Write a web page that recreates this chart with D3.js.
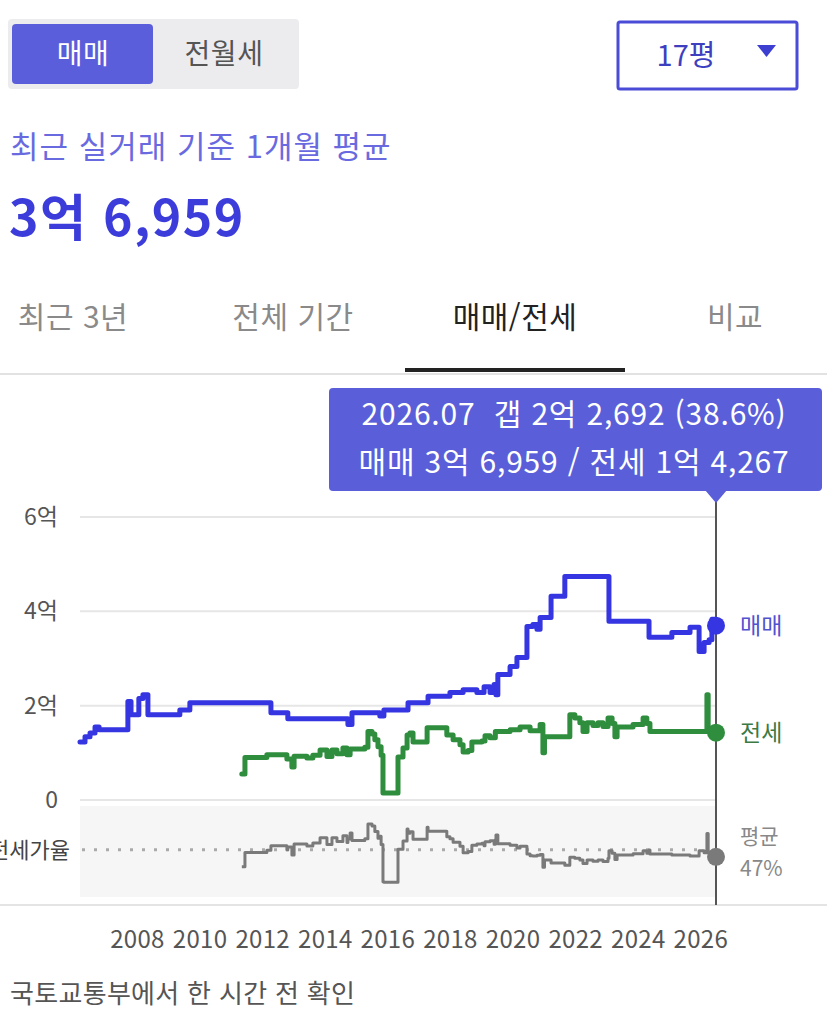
<!DOCTYPE html>
<html lang="ko">
<head>
<meta charset="utf-8">
<script src="https://cdn.jsdelivr.net/npm/d3@7"></script>
<style>
  body { margin: 0; background: #fff; font-family: "Noto Sans CJK KR", "Noto Sans", sans-serif; }
  svg text { font-family: "Noto Sans CJK KR", "Noto Sans", sans-serif; }
</style>
</head>
<body>
<script>
// 매매 (연도, 억)
const saleYears = [2006.18, 2006.34, 2006.50, 2006.66, 2006.79, 2007.71, 2007.81, 2008.06, 2008.19, 2008.35,
  2009.37, 2009.69, 2012.28, 2012.82, 2014.74, 2014.87, 2015.76, 2015.89, 2016.66, 2017.30,
  2018.00, 2018.42, 2018.86, 2019.09, 2019.28, 2019.41, 2019.47, 2019.53, 2019.92, 2020.14,
  2020.46, 2020.65, 2020.78, 2020.88, 2021.23, 2021.67, 2023.08, 2024.36, 2025.09, 2025.67,
  2025.96, 2026.12, 2026.28, 2026.37, 2026.50];
const saleValues = [1.23, 1.34, 1.42, 1.55, 1.49, 2.09, 1.81, 2.15, 2.23, 1.81,
  1.91, 2.06, 1.85, 1.72, 1.60, 1.85, 1.78, 1.91, 2.06, 2.20,
  2.28, 2.34, 2.28, 2.40, 2.28, 2.45, 2.23, 2.66, 2.83, 3.02,
  3.68, 3.72, 3.62, 3.87, 4.32, 4.74, 3.79, 3.45, 3.55, 3.66,
  3.15, 3.34, 3.40, 3.83, 3.6959];

// 전세 (연도, 억)
const jeonseYears = [2011.35, 2011.45, 2012.15, 2012.79, 2012.95, 2013.02, 2013.43, 2013.62, 2013.85, 2014.07,
  2014.23, 2014.39, 2014.58, 2014.71, 2014.81, 2015.28, 2015.38, 2015.51, 2015.60, 2015.70,
  2015.80, 2015.86, 2016.34, 2016.50, 2016.63, 2016.72, 2016.82, 2017.27, 2017.90, 2018.10,
  2018.32, 2018.42, 2018.58, 2018.70, 2019.02, 2019.12, 2019.28, 2019.45, 2019.92, 2020.24,
  2020.56, 2020.88, 2020.97, 2021.02, 2021.83, 2021.99, 2022.15, 2022.25, 2022.38, 2022.57,
  2022.73, 2022.89, 2023.05, 2023.18, 2023.27, 2023.34, 2023.85, 2024.17, 2024.29, 2024.39,
  2026.21, 2026.25, 2026.50];
const jeonseValues = [0.55, 0.90, 0.96, 0.87, 0.70, 0.93, 0.89, 0.95, 1.06, 0.92,
  1.06, 0.98, 1.10, 0.96, 1.08, 1.12, 1.45, 1.40, 1.28, 1.13,
  0.95, 0.15, 0.91, 1.10, 1.38, 1.42, 1.23, 1.53, 1.38, 1.28,
  1.17, 1.02, 1.05, 1.23, 1.25, 1.36, 1.32, 1.45, 1.49, 1.55,
  1.47, 1.60, 1.00, 1.34, 1.81, 1.74, 1.64, 1.45, 1.64, 1.58,
  1.64, 1.56, 1.74, 1.62, 1.34, 1.55, 1.60, 1.74, 1.62, 1.45,
  2.23, 1.45, 1.4267];

const yTicks = [0, 2, 4, 6];
const xTicks = [2008, 2010, 2012, 2014, 2016, 2018, 2020, 2022, 2024, 2026];
const avgRatio = 47;
const latestLabel = "2026.07";
const tradeTabs = ["매매", "전월세"];
const periodTabs = ["최근 3년", "전체 기간", "매매/전세", "비교"];

const W = 827, H = 1020;
const svg = d3.select("body").append("svg").attr("width", W).attr("height", H);

const fmtWon = v => {
  const man = Math.round(v * 10000);
  return `${Math.floor(man / 10000)}억 ${d3.format(",")(man % 10000)}`;
};

const lastSale = saleValues[saleValues.length - 1];
const lastJeonse = jeonseValues[jeonseValues.length - 1];
const lastYear = saleYears[saleYears.length - 1];

// 상단 토글
svg.append("rect").attr("x", 8).attr("y", 19).attr("width", 291).attr("height", 70).attr("rx", 4).attr("fill", "#ececef");
svg.append("rect").attr("x", 12).attr("y", 24).attr("width", 141).attr("height", 60).attr("rx", 4).attr("fill", "#5a5edb");
svg.selectAll(".toggle").data(tradeTabs).join("text")
  .attr("x", (d, i) => i === 0 ? 83 : 224).attr("y", 54).attr("dy", "0.35em")
  .attr("text-anchor", "middle").attr("font-size", 28).attr("letter-spacing", 0.5)
  .attr("fill", (d, i) => i === 0 ? "#fff" : "#555").text(d => d);

// 평형 선택
svg.append("rect").attr("x", 618).attr("y", 22).attr("width", 179).attr("height", 67).attr("rx", 2)
  .attr("fill", "#fff").attr("stroke", "#4a4bd6").attr("stroke-width", 3);
svg.append("text").attr("x", 686).attr("y", 56).attr("dy", "0.35em").attr("text-anchor", "middle")
  .attr("font-size", 29).attr("fill", "#3d3fbf").text("17평");
svg.append("path").attr("d", "M757,45 L776,45 L766.5,57 Z").attr("fill", "#3d3fd0");

svg.append("text").attr("x", 10).attr("y", 147).attr("dy", "0.35em").attr("font-size", 31)
  .attr("letter-spacing", 1).attr("fill", "#6a6ae0").text("최근 실거래 기준 1개월 평균");
svg.append("text").attr("x", 9).attr("y", 218).attr("dy", "0.35em").attr("font-size", 50)
  .attr("letter-spacing", 1.5).attr("font-weight", "bold").attr("fill", "#3c3cdb").text(fmtWon(lastSale));

// 탭
const tabX = [73, 293, 515, 735];
svg.selectAll(".tab").data(periodTabs).join("text")
  .attr("x", (d, i) => tabX[i]).attr("y", 317).attr("dy", "0.35em").attr("text-anchor", "middle")
  .attr("font-size", 30).attr("letter-spacing", 0.5)
  .attr("fill", (d, i) => i === 2 ? "#222" : "#8a8a8a").text(d => d);
svg.append("line").attr("x1", 0).attr("x2", W).attr("y1", 374).attr("y2", 374).attr("stroke", "#e2e2e2").attr("stroke-width", 2);
svg.append("rect").attr("x", 405).attr("y", 368).attr("width", 220).attr("height", 4).attr("fill", "#222");

// 스케일
const x = d3.scaleLinear().domain([saleYears[0], lastYear]).range([80, 716]);
const y = d3.scaleLinear().domain([0, 6]).range([800, 517]);
const yRatio = d3.scaleLinear().domain([-10, 100]).range([897, 806]);

// 전세가율 배경
svg.append("rect").attr("x", 80).attr("y", 806).attr("width", 636).attr("height", 91).attr("fill", "#f6f6f6");

// 그리드
svg.selectAll(".grid").data(yTicks).join("line")
  .attr("x1", 80).attr("x2", 716).attr("y1", d => y(d)).attr("y2", d => y(d))
  .attr("stroke", "#e6e6e6").attr("stroke-width", 2);
svg.append("line").attr("x1", 0).attr("x2", W).attr("y1", 905).attr("y2", 905).attr("stroke", "#e4e4e4").attr("stroke-width", 2);

// y축
const yAxis = svg.append("g").attr("transform", "translate(58,0)")
  .call(d3.axisLeft(y).tickValues(yTicks).tickSize(0).tickPadding(0).tickFormat(d => d === 0 ? "0" : d + "억"));
yAxis.select(".domain").remove();
yAxis.selectAll("text").attr("font-size", 23).attr("fill", "#555");

// x축
const xAxis = svg.append("g").attr("transform", "translate(0,905)")
  .call(d3.axisBottom(x).tickValues(xTicks).tickSize(0).tickPadding(26).tickFormat(d3.format("d")));
xAxis.select(".domain").remove();
xAxis.selectAll("text").attr("font-size", 24).attr("letter-spacing", 0.3).attr("fill", "#555");

// 평균 점선
svg.append("line").attr("x1", 82).attr("x2", 716).attr("y1", yRatio(avgRatio)).attr("y2", yRatio(avgRatio))
  .attr("stroke", "#aaa").attr("stroke-width", 3).attr("stroke-dasharray", "3,9");
svg.append("text").attr("x", 70).attr("y", yRatio(avgRatio)).attr("dy", "0.35em").attr("text-anchor", "end")
  .attr("font-size", 22).attr("fill", "#444").text("전세가율");

// 데이터
const sale = saleYears.map((t, i) => [t, saleValues[i]]);
const jeonse = jeonseYears.map((t, i) => [t, jeonseValues[i]]);
const saleAt = t => saleValues[Math.max(0, d3.bisectRight(saleYears, t) - 1)];
const jeonseAt = t => jeonseValues[Math.max(0, d3.bisectRight(jeonseYears, t) - 1)];
const ratioTimes = Array.from(new Set(jeonseYears.concat(saleYears.filter(t => t >= jeonseYears[0])))).sort((a, b) => a - b);
const ratio = ratioTimes.map(t => [t, jeonseAt(t) / saleAt(t) * 100]);

const line = d3.line().x(d => x(d[0])).y(d => y(d[1])).curve(d3.curveStepAfter);
const ratioLine = d3.line().x(d => x(d[0])).y(d => yRatio(d[1])).curve(d3.curveStepAfter);

svg.append("path").datum(ratio).attr("d", ratioLine).attr("fill", "none")
  .attr("stroke", "#7a7a7a").attr("stroke-width", 3).attr("stroke-linejoin", "round");
svg.append("path").datum(jeonse).attr("d", line).attr("fill", "none")
  .attr("stroke", "#2f8d3e").attr("stroke-width", 5).attr("stroke-linejoin", "round").attr("stroke-linecap", "round");
svg.append("path").datum(sale).attr("d", line).attr("fill", "none")
  .attr("stroke", "#3535e2").attr("stroke-width", 5).attr("stroke-linejoin", "round").attr("stroke-linecap", "round");

// 현재 위치 세로선
const cx = x(lastYear);
svg.append("line").attr("x1", cx).attr("x2", cx).attr("y1", 500).attr("y2", 905).attr("stroke", "#555").attr("stroke-width", 2);

const lastRatio = lastJeonse / lastSale * 100;
const dots = [
  { cy: y(lastSale), color: "#3535e2" },
  { cy: y(lastJeonse), color: "#2f8d3e" },
  { cy: yRatio(lastRatio), color: "#7a7a7a" }
];
svg.selectAll(".dot").data(dots).join("circle")
  .attr("cx", cx).attr("cy", d => d.cy).attr("r", 9).attr("fill", d => d.color);

const endLabels = [
  { text: "매매", y: y(lastSale), color: "#5252cf", size: 23 },
  { text: "전세", y: y(lastJeonse), color: "#3c7a45", size: 23 },
  { text: "평균", y: 837, color: "#888", size: 21 },
  { text: avgRatio + "%", y: 869, color: "#888", size: 21 }
];
svg.selectAll(".endLabel").data(endLabels).join("text")
  .attr("x", 740).attr("y", d => d.y).attr("dy", "0.35em").attr("font-size", d => d.size)
  .attr("fill", d => d.color).text(d => d.text);

// 툴팁
const tip = svg.append("g");
tip.append("rect").attr("x", 329).attr("y", 388).attr("width", 493).attr("height", 103).attr("rx", 4).attr("fill", "#5a5fd9");
tip.append("path").attr("d", `M${cx - 11},490 L${cx + 11},490 L${cx},503 Z`).attr("fill", "#5a5fd9");
const gap = lastSale - lastJeonse;
const tipLines = [
  `${latestLabel}  갭 ${fmtWon(gap)} (${d3.format(".1f")(lastRatio)}%)`,
  `매매 ${fmtWon(lastSale)} / 전세 ${fmtWon(lastJeonse)}`
];
tip.selectAll("text").data(tipLines).join("text")
  .attr("x", 574).attr("y", (d, i) => 414 + i * 48).attr("dy", "0.35em").attr("text-anchor", "middle")
  .attr("font-size", 30).attr("letter-spacing", 0.8).attr("fill", "#fff").style("white-space", "pre").text(d => d);

// 출처
svg.append("text").attr("x", 10).attr("y", 994).attr("dy", "0.35em").attr("font-size", 26)
  .attr("letter-spacing", 0.3).attr("fill", "#555").text("국토교통부에서 한 시간 전 확인");
</script>
</body>
</html>
